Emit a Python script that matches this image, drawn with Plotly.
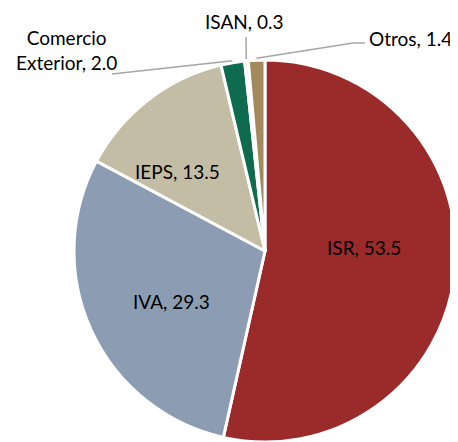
import math
import plotly.graph_objects as go

# Participación en los ingresos tributarios (%)
labels = ["ISR", "IVA", "IEPS", "Comercio<br>Exterior", "ISAN", "Otros"]
values = [53.5, 29.3, 13.5, 2.0, 0.3, 1.4]
colors = ["#9B2A2B", "#8C9DB3", "#C4BDA5", "#0E6B4E", "#EFE1B4", "#A38A5C"]

PAGE_OFF = 8  # default body margin of the html page
W, H = 458 - PAGE_OFF, 442 - PAGE_OFF
CX, CY, R = 265, 251, 191  # pie centre / radius in window pixels

# label centre (window px) for each slice, and where the leader line starts
label_pos = [(364, 247), (171, 301), (177, 172), (66, 50), (244, 22), (410, 38)]
leader_start = [None, None, None, [(112, 74)], [(246, 37)], [(365, 43), (353, 43)]]


def px(x, y):
    return (x - PAGE_OFF) / W, 1 - (y - PAGE_OFF) / H


x0, y1 = px(CX - R, CY - R)
x1, y0 = px(CX + R, CY + R)

fig = go.Figure(go.Pie(
    labels=labels,
    values=values,
    sort=False,
    direction="clockwise",
    rotation=0,
    marker=dict(colors=colors, line=dict(color="white", width=3)),
    textinfo="none",
    domain=dict(x=[x0, x1], y=[max(y0, 0), y1]),
    showlegend=False,
    hoverinfo="label+value",
))

total = sum(values)
cum = 0
for lab, v, pos, lead in zip(labels, values, label_pos, leader_start):
    mid = (cum + v / 2) / total * 2 * math.pi
    cum += v
    x, y = px(*pos)
    fig.add_annotation(x=x, y=y, xref="paper", yref="paper", showarrow=False,
                       xanchor="center", yanchor="middle",
                       text=f"{lab}, {v:.1f}", align="center",
                       font=dict(family="Lato", size=19, color="black"))
    if lead:
        # leader line ends at the rim, at the middle of the slice
        end = (CX + (R + 2) * math.sin(mid), CY - (R + 2) * math.cos(mid))
        pts = [px(*p) for p in lead + [end]]
        path = "M " + " L ".join(f"{a},{b}" for a, b in pts)
        fig.add_shape(type="path", path=path, xref="paper", yref="paper",
                      line=dict(color="#A6A6A6", width=1.5))

fig.update_layout(
    width=W, height=H,
    margin=dict(l=0, r=0, t=0, b=0),
    paper_bgcolor="white",
)

fig.write_html("out.html")
